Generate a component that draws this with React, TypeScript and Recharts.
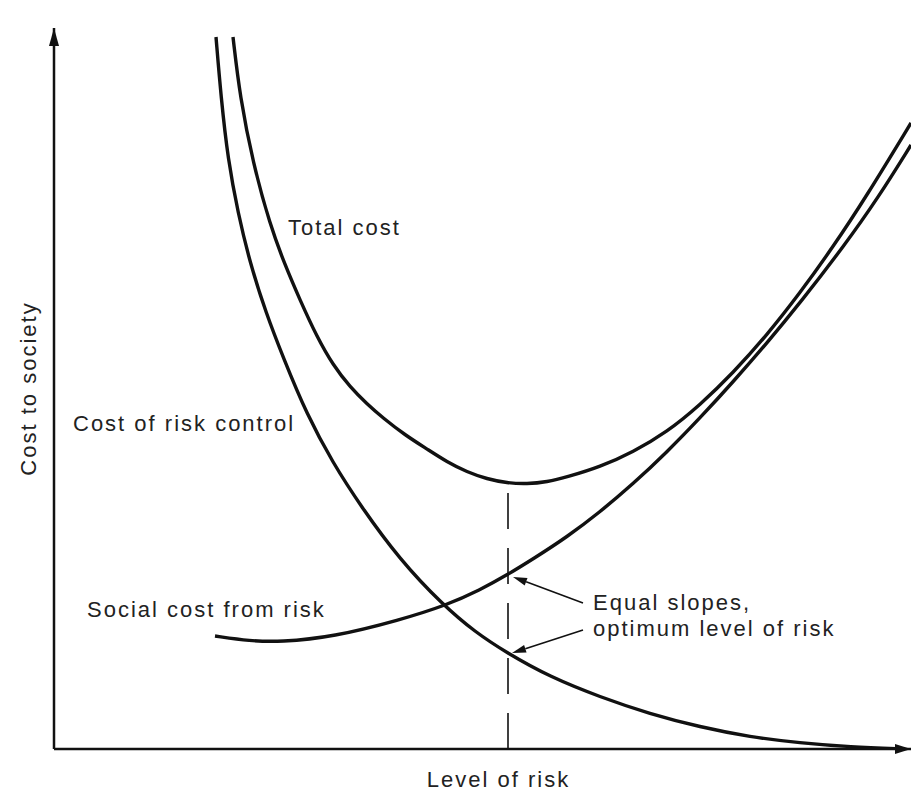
import { LineChart, Line, XAxis, YAxis, ReferenceLine, ReferenceDot } from 'recharts'

// level of risk (x) and cost (y), arbitrary units
const controlRisk = [162, 167, 174, 184, 196, 212, 229, 253, 279, 306, 346, 389, 421, 453, 496, 546, 596, 646, 696, 746, 796, 851]
const controlCost = [712, 652, 589, 536, 486, 436, 392, 334, 286, 244, 189, 144, 117, 96, 72, 52, 35, 22, 12, 6, 2, 0]

const totalRisk = [179, 186, 199, 216, 231, 246, 263, 279, 296, 313, 329, 351, 373, 393, 413, 433, 453, 473, 493, 513, 546, 579, 613, 646, 679, 713, 746, 779, 812, 857]
const totalCost = [712, 652, 586, 524, 484, 449, 412, 384, 362, 345, 331, 314, 300, 287, 277, 270, 266, 265, 267, 272, 282, 297, 317, 344, 376, 414, 456, 502, 552, 626]

const socialRisk = [161, 196, 226, 279, 346, 393, 426, 453, 479, 513, 546, 579, 613, 646, 679, 713, 746, 790, 824, 857]
const socialCost = [113, 108, 107, 112, 129, 144, 159, 174, 190, 212, 237, 265, 297, 331, 367, 406, 446, 503, 551, 604]

const optimumRisk = 454
const optimumTotal = 265

const X_MAX = 857
const Y_MAX = 721

const toRows = (xs: number[], ys: number[]) => xs.map((x, i) => ({ x, y: ys[i] }))

const controlData = toRows(controlRisk, controlCost)
const totalData = toRows(totalRisk, totalCost)
const socialData = toRows(socialRisk, socialCost)

const notes = [
  { text: 'Total cost', x: 234, y: 514 },
  { text: 'Cost of risk control', x: 19, y: 318 },
  { text: 'Social cost from risk', x: 33, y: 132 },
  { text: 'Equal slopes,', x: 539, y: 139 },
  { text: 'optimum level of risk', x: 539, y: 113 },
]

// pointer lines from the note to the curve
const pointers = [
  { from: { x: 529, y: 146 }, to: { x: 459, y: 172 } },
  { from: { x: 529, y: 119 }, to: { x: 458, y: 96 } },
]

const INK = '#111'
const FONT = '"Liberation Sans", Arial, sans-serif'
const textStyle = { fontFamily: FONT, fontSize: 22, letterSpacing: 2, fill: '#222' }

function Pointer(props: any) {
  const { x1, y1, x2, y2 } = props
  const a = Math.atan2(y2 - y1, x2 - x1)
  const len = 14
  const w = 4
  const bx = x2 - len * Math.cos(a)
  const by = y2 - len * Math.sin(a)
  const px = -Math.sin(a) * w
  const py = Math.cos(a) * w
  return (
    <g>
      <line x1={x1} y1={y1} x2={bx} y2={by} stroke={INK} strokeWidth={1.6} />
      <polygon points={`${x2},${y2} ${bx + px},${by + py} ${bx - px},${by - py}`} fill={INK} />
    </g>
  )
}

export default function App() {
  return (
    <div style={{ position: 'absolute', left: 0, top: 0, width: 911, height: 793, background: '#fff' }}>
      <LineChart width={911} height={793} margin={{ top: 28, right: 0, bottom: 0, left: 0 }}>
        <XAxis
          type="number"
          dataKey="x"
          domain={[0, X_MAX]}
          allowDataOverflow
          height={44}
          tick={false}
          tickLine={false}
          axisLine={{ stroke: INK, strokeWidth: 2.5 }}
          label={{
            position: 'bottom',
            content: (p: any) => (
              <text x={p.viewBox.x + p.viewBox.width / 2 + 16} y={p.viewBox.y + 38} textAnchor="middle" style={textStyle}>
                Level of risk
              </text>
            ),
          }}
        />
        <YAxis
          type="number"
          dataKey="y"
          domain={[0, Y_MAX]}
          allowDataOverflow
          width={54}
          tick={false}
          tickLine={false}
          axisLine={{ stroke: INK, strokeWidth: 2.5 }}
          label={{
            position: 'left',
            content: (p: any) => {
              const cx = p.viewBox.x + 36
              const cy = p.viewBox.y + p.viewBox.height / 2
              return (
                <text x={cx} y={cy} textAnchor="middle" transform={`rotate(-90 ${cx} ${cy})`} style={textStyle}>
                  Cost to society
                </text>
              )
            },
          }}
        />

        <ReferenceLine
          segment={[{ x: optimumRisk, y: 0 }, { x: optimumRisk, y: optimumTotal }]}
          stroke={INK}
          strokeWidth={1.6}
          strokeDasharray="36 19"
          ifOverflow="visible"
        />

        <Line data={controlData} dataKey="y" type="basis" stroke={INK} strokeWidth={3.4} dot={false} activeDot={false} isAnimationActive={false} />
        <Line data={totalData} dataKey="y" type="basis" stroke={INK} strokeWidth={3.4} dot={false} activeDot={false} isAnimationActive={false} />
        <Line data={socialData} dataKey="y" type="basis" stroke={INK} strokeWidth={3.4} dot={false} activeDot={false} isAnimationActive={false} />

        {pointers.map((p, i) => (
          <ReferenceLine key={i} segment={[p.from, p.to]} ifOverflow="visible" shape={(s: any) => <Pointer {...s} />} />
        ))}

        {notes.map((n) => (
          <ReferenceDot
            key={n.text}
            x={n.x}
            y={n.y}
            ifOverflow="visible"
            shape={(s: any) => (
              <text x={s.cx} y={s.cy} style={textStyle}>
                {n.text}
              </text>
            )}
          />
        ))}

        <ReferenceDot
          x={0}
          y={Y_MAX}
          ifOverflow="visible"
          shape={(s: any) => <polygon points={`${s.cx},${s.cy} ${s.cx - 5},${s.cy + 18} ${s.cx + 5},${s.cy + 18}`} fill={INK} />}
        />
        <ReferenceDot
          x={X_MAX}
          y={0}
          ifOverflow="visible"
          shape={(s: any) => <polygon points={`${s.cx},${s.cy} ${s.cx - 16},${s.cy - 5} ${s.cx - 16},${s.cy + 5}`} fill={INK} />}
        />
      </LineChart>
    </div>
  )
}
